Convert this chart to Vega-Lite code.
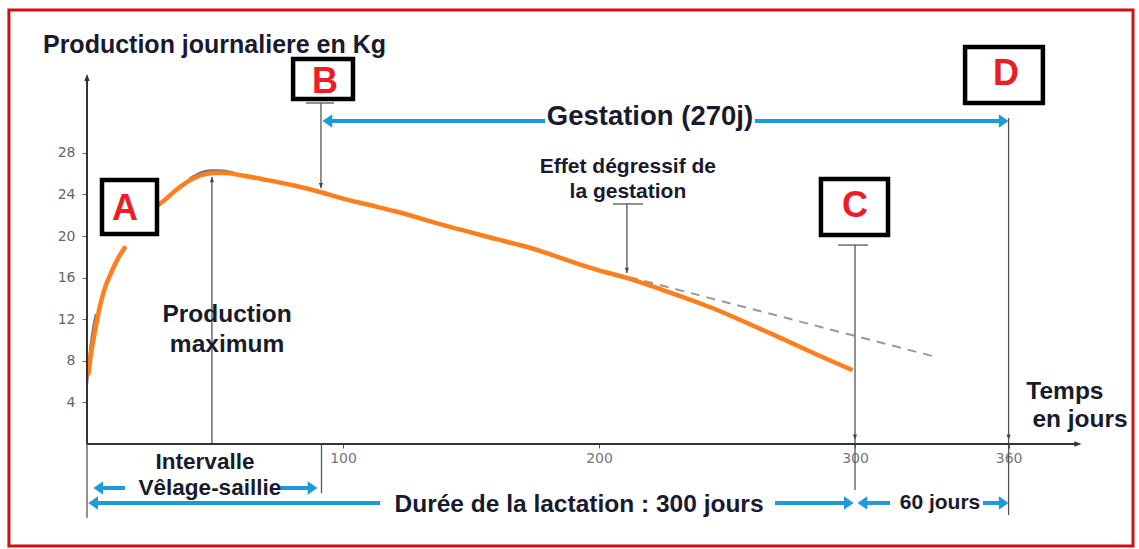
{
  "$schema": "https://vega.github.io/schema/vega-lite/v6.json",
  "width": 1052,
  "height": 424,
  "autosize": {"type": "none"},
  "padding": {"left": 87, "top": 20, "right": 0, "bottom": 105},
  "background": "white",
  "config": {"view": {"stroke": null}, "font": "Liberation Sans"},
  "datasets": {
    "frame": [{"d": -30.5, "d2": 408.6, "kg": 41.73, "kg2": -9.8}],
    "curve": [
      {"seg": 1, "d": 0.5, "kg": 6.6}, {"seg": 1, "d": 1.5, "kg": 8.6}, {"seg": 1, "d": 2.7, "kg": 10.3},
      {"seg": 1, "d": 4, "kg": 12.0}, {"seg": 1, "d": 5.3, "kg": 13.5}, {"seg": 1, "d": 7, "kg": 15.0},
      {"seg": 1, "d": 9.3, "kg": 16.4}, {"seg": 1, "d": 12, "kg": 17.8}, {"seg": 1, "d": 15.1, "kg": 19.0},
      {"seg": 2, "d": 27.5, "kg": 22.9}, {"seg": 2, "d": 30.5, "kg": 23.5}, {"seg": 2, "d": 33.5, "kg": 24.15},
      {"seg": 2, "d": 36.5, "kg": 24.75}, {"seg": 2, "d": 39.8, "kg": 25.3}, {"seg": 2, "d": 43, "kg": 25.7},
      {"seg": 2, "d": 46.4, "kg": 25.95}, {"seg": 2, "d": 50, "kg": 26.05}, {"seg": 2, "d": 54.2, "kg": 26.05},
      {"seg": 2, "d": 60, "kg": 25.85}, {"seg": 2, "d": 70, "kg": 25.4}, {"seg": 2, "d": 80, "kg": 24.9},
      {"seg": 2, "d": 90, "kg": 24.3}, {"seg": 2, "d": 100, "kg": 23.6}, {"seg": 2, "d": 110, "kg": 23.0},
      {"seg": 2, "d": 120, "kg": 22.4}, {"seg": 2, "d": 141.4, "kg": 20.9}, {"seg": 2, "d": 160, "kg": 19.7},
      {"seg": 2, "d": 174, "kg": 18.8}, {"seg": 2, "d": 192, "kg": 17.3}, {"seg": 2, "d": 200, "kg": 16.7},
      {"seg": 2, "d": 210.4, "kg": 16.0}, {"seg": 2, "d": 225, "kg": 14.8}, {"seg": 2, "d": 244, "kg": 13.1},
      {"seg": 2, "d": 260, "kg": 11.4}, {"seg": 2, "d": 270, "kg": 10.3}, {"seg": 2, "d": 285, "kg": 8.6},
      {"seg": 2, "d": 299, "kg": 7.1}
    ],
    "origCurve": [
      {"seg": 1, "d": 0, "kg": 5.8}, {"seg": 1, "d": 0.8, "kg": 8.0}, {"seg": 1, "d": 2, "kg": 10.5}, {"seg": 1, "d": 3.5, "kg": 12.5},
      {"seg": 2, "d": 40, "kg": 25.5}, {"seg": 2, "d": 44, "kg": 26.05}, {"seg": 2, "d": 48, "kg": 26.3},
      {"seg": 2, "d": 52, "kg": 26.3}, {"seg": 2, "d": 57, "kg": 26.1}
    ],
    "trend": [{"d": 211.7, "kg": 16.06}, {"d": 331.6, "kg": 8.37}],
    "grayRules": [
      {"d": 85.5, "d2": 96.5, "kg": 32.79, "kg2": 32.79},
      {"d": 91.4, "d2": 91.4, "kg": 32.79, "kg2": 24.6},
      {"d": 91.6, "d2": 91.6, "kg": 0, "kg2": -4.71},
      {"d": 48.8, "d2": 48.8, "kg": 0, "kg2": 25.67},
      {"d": 205.5, "d2": 217.2, "kg": 23.08, "kg2": 23.08},
      {"d": 210.9, "d2": 210.9, "kg": 23.08, "kg2": 16.44},
      {"d": 293.4, "d2": 305.1, "kg": 19.13, "kg2": 19.13},
      {"d": 300, "d2": 300, "kg": 19.13, "kg2": -4.42},
      {"d": 360, "d2": 360, "kg": 31.35, "kg2": -6.83},
      {"d": 0, "d2": 0, "kg": 0, "kg2": -7.1}
    ],
    "grayDown": [{"d": 91.4, "kg": 24.6}, {"d": 210.9, "kg": 16.44}, {"d": 300, "kg": 0.4}, {"d": 360, "kg": 0.4}],
    "grayUp": [{"d": 48.8, "kg": 25.67}],
    "axisLines": [{"d": 0, "d2": 0, "kg": 0, "kg2": 35.0}, {"d": 0, "d2": 386, "kg": 0, "kg2": 0}],
    "axisUp": [{"d": 0, "kg": 35.6}],
    "axisRight": [{"d": 388.5, "kg": 0}],
    "blueRules": [
      {"d": 93, "d2": 178.9, "kg": 31.06, "kg2": 31.06},
      {"d": 260.9, "d2": 357, "kg": 31.06, "kg2": 31.06},
      {"d": 4, "d2": 14.8, "kg": -4.23, "kg2": -4.23},
      {"d": 75.4, "d2": 87, "kg": -4.23, "kg2": -4.23},
      {"d": 2, "d2": 114.5, "kg": -5.67, "kg2": -5.67},
      {"d": 268.75, "d2": 296, "kg": -5.67, "kg2": -5.67},
      {"d": 303, "d2": 313.7, "kg": -5.67, "kg2": -5.67},
      {"d": 350, "d2": 357, "kg": -5.67, "kg2": -5.67}
    ],
    "blueL": [{"d": 92, "kg": 31.06}, {"d": 2.5, "kg": -4.23}, {"d": 0.5, "kg": -5.67}, {"d": 301, "kg": -5.67}],
    "blueR": [{"d": 360, "kg": 31.06}, {"d": 90, "kg": -4.23}, {"d": 299.5, "kg": -5.67}, {"d": 360, "kg": -5.67}],
    "boxes": [
      {"d": 5.86, "d2": 27.34, "kg": 25.38, "kg2": 20.19},
      {"d": 80.5, "d2": 103.9, "kg": 37.02, "kg2": 33.17},
      {"d": 286.7, "d2": 312.9, "kg": 25.48, "kg2": 20.1},
      {"d": 343.0, "d2": 373.4, "kg": 38.17, "kg2": 32.79}
    ],
    "letters": [
      {"d": 14.8, "kg": 22.6, "t": "A"},
      {"d": 93.0, "kg": 34.8, "t": "B"},
      {"d": 300.0, "kg": 22.9, "t": "C"},
      {"d": 359.0, "kg": 35.6, "t": "D"}
    ],
    "titleText": [{"d": -17.2, "kg": 38.4, "t": "Production journaliere en Kg"}],
    "text26": [{"d": 219.9, "kg": 31.44, "t": "Gestation (270j)"}],
    "text24": [
      {"d": 54.7, "kg": 12.4, "t": "Production"},
      {"d": 54.7, "kg": 9.52, "t": "maximum"},
      {"d": 192.2, "kg": -5.87, "t": "Durée de la lactation : 300 jours"},
      {"d": 382.0, "kg": 5.0, "t": "Temps"},
      {"d": 387.9, "kg": 2.31, "t": "en jours"}
    ],
    "text22": [
      {"d": 46.1, "kg": -1.73, "t": "Intervalle"},
      {"d": 48.0, "kg": -4.23, "t": "Vêlage-saillie"}
    ],
    "text21": [
      {"d": 333.2, "kg": -5.67, "t": "60 jours"},
      {"d": 211.3, "kg": 26.63, "t": "Effet dégressif de"},
      {"d": 211.3, "kg": 24.23, "t": "la gestation"}
    ]
  },
  "encoding": {
    "x": {
      "field": "d", "type": "quantitative",
      "scale": {"domain": [0, 410.94], "nice": false, "zero": false},
      "axis": {"values": [100, 200, 300, 360], "domain": false, "grid": false, "title": null,
        "labelColor": "#777", "labelFont": "DejaVu Sans", "labelFontSize": 14, "labelOverlap": false,
        "labelFlush": false, "tickColor": "#555", "tickSize": 4, "labelPadding": 3}
    },
    "y": {
      "field": "kg", "type": "quantitative",
      "scale": {"domain": [0, 40.77], "nice": false, "zero": false},
      "axis": {"values": [4, 8, 12, 16, 20, 24, 28], "domain": false, "grid": false, "title": null,
        "labelColor": "#666", "labelFont": "DejaVu Sans", "labelFontSize": 14, "tickColor": "#666",
        "tickSize": 5, "labelPadding": 7}
    }
  },
  "layer": [
    {"data": {"name": "frame"}, "mark": {"type": "rect", "filled": false, "stroke": "#CC1111", "strokeWidth": 3, "clip": false},
      "encoding": {"x2": {"field": "d2"}, "y2": {"field": "kg2"}}},
    {"data": {"name": "origCurve"}, "mark": {"type": "line", "color": "#777", "strokeWidth": 2.5, "interpolate": "monotone"},
      "encoding": {"detail": {"field": "seg"}}},
    {"data": {"name": "trend"}, "mark": {"type": "line", "color": "#999", "strokeWidth": 2, "strokeDash": [9, 7]},
      "encoding": {}},
    {"data": {"name": "curve"}, "mark": {"type": "line", "color": "#FF7F1E", "strokeWidth": 4.5, "interpolate": "monotone"},
      "encoding": {"detail": {"field": "seg"}}},
    {"data": {"name": "grayRules"}, "mark": {"type": "rule", "color": "#555", "strokeWidth": 1.3},
      "encoding": {"x2": {"field": "d2"}, "y2": {"field": "kg2"}}},
    {"data": {"name": "grayDown"}, "mark": {"type": "point", "shape": "M0,0 L-0.6,-1.5 L0.6,-1.5 Z", "size": 49, "filled": true, "color": "#444", "opacity": 1},
      "encoding": {}},
    {"data": {"name": "grayUp"}, "mark": {"type": "point", "shape": "M0,0 L-0.6,1.5 L0.6,1.5 Z", "size": 49, "filled": true, "color": "#444", "opacity": 1},
      "encoding": {}},
    {"data": {"name": "axisLines"}, "mark": {"type": "rule", "color": "#333", "strokeWidth": 2},
      "encoding": {"x2": {"field": "d2"}, "y2": {"field": "kg2"}}},
    {"data": {"name": "axisUp"}, "mark": {"type": "point", "shape": "M0,0 L-0.6,1.6 L0.6,1.6 Z", "size": 81, "filled": true, "color": "#333", "opacity": 1},
      "encoding": {}},
    {"data": {"name": "axisRight"}, "mark": {"type": "point", "shape": "M0,0 L-1.6,-0.6 L-1.6,0.6 Z", "size": 81, "filled": true, "color": "#333", "opacity": 1},
      "encoding": {}},
    {"data": {"name": "blueRules"}, "mark": {"type": "rule", "color": "#1E9AD8", "strokeWidth": 4},
      "encoding": {"x2": {"field": "d2"}, "y2": {"field": "kg2"}}},
    {"data": {"name": "blueL"}, "mark": {"type": "point", "shape": "M0,0 L1.3,-0.9 L1.3,0.9 Z", "size": 225, "filled": true, "color": "#1E9AD8", "opacity": 1},
      "encoding": {}},
    {"data": {"name": "blueR"}, "mark": {"type": "point", "shape": "M0,0 L-1.3,-0.9 L-1.3,0.9 Z", "size": 225, "filled": true, "color": "#1E9AD8", "opacity": 1},
      "encoding": {}},
    {"data": {"name": "boxes"}, "mark": {"type": "rect", "fill": "white", "stroke": "black", "strokeWidth": 4.5},
      "encoding": {"x2": {"field": "d2"}, "y2": {"field": "kg2"}}},
    {"data": {"name": "letters"}, "mark": {"type": "text", "fontSize": 36, "fontWeight": "bold", "color": "#EE1C25", "align": "center", "baseline": "middle"},
      "encoding": {"text": {"field": "t"}}},
    {"data": {"name": "titleText"}, "mark": {"type": "text", "fontSize": 25, "fontWeight": "bold", "color": "#1a1a2e", "align": "left", "baseline": "middle"},
      "encoding": {"text": {"field": "t"}}},
    {"data": {"name": "text26"}, "mark": {"type": "text", "fontSize": 27.5, "fontWeight": "bold", "color": "#1a1a2e", "align": "center", "baseline": "middle"},
      "encoding": {"text": {"field": "t"}}},
    {"data": {"name": "text24"}, "mark": {"type": "text", "fontSize": 24.5, "fontWeight": "bold", "color": "#1a1a2e", "align": "center", "baseline": "middle"},
      "encoding": {"text": {"field": "t"}}},
    {"data": {"name": "text22"}, "mark": {"type": "text", "fontSize": 22.5, "fontWeight": "bold", "color": "#1a1a2e", "align": "center", "baseline": "middle"},
      "encoding": {"text": {"field": "t"}}},
    {"data": {"name": "text21"}, "mark": {"type": "text", "fontSize": 21, "fontWeight": "bold", "color": "#1a1a2e", "align": "center", "baseline": "middle"},
      "encoding": {"text": {"field": "t"}}}
  ]
}
